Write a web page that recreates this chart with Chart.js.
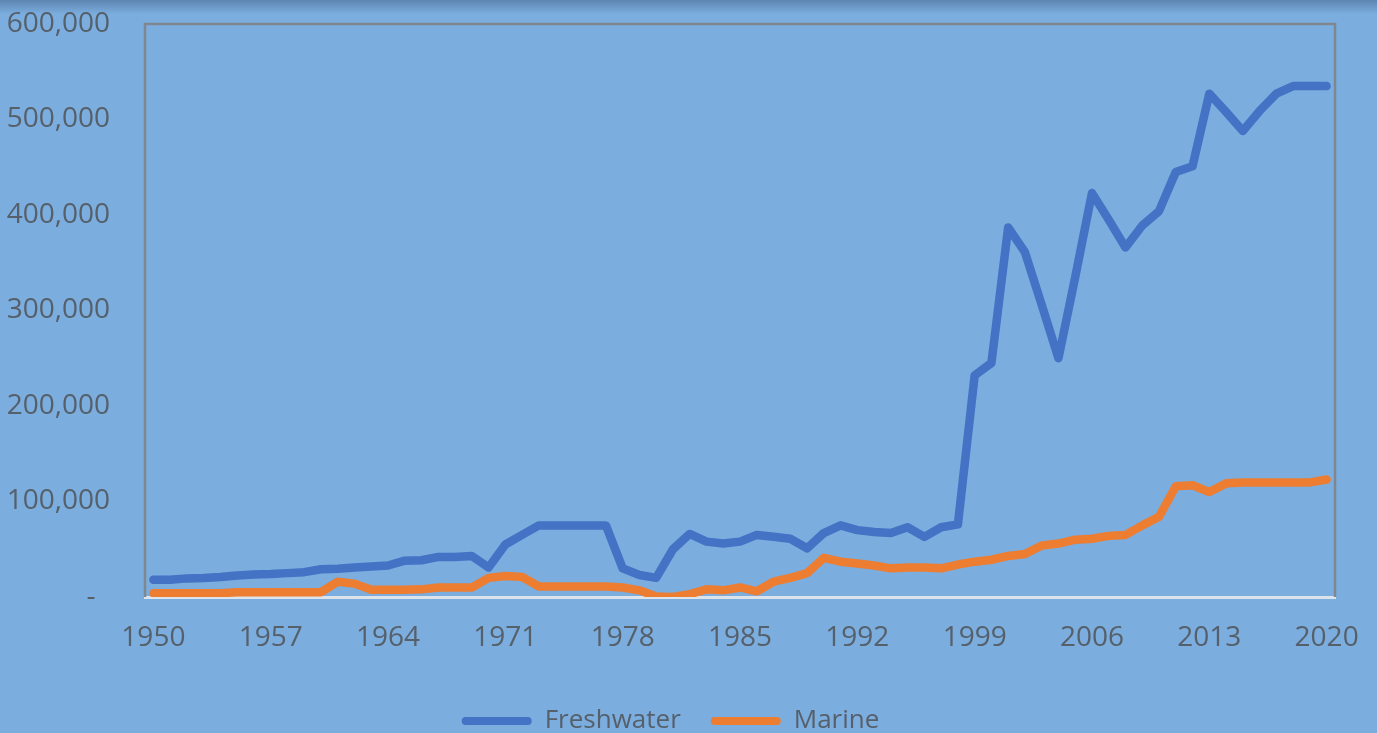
<!DOCTYPE html>
<html>
<head>
<meta charset="utf-8">
<script src="https://cdn.jsdelivr.net/npm/chart.js@4.4.0/dist/chart.umd.min.js"></script>
<style>
  html, body { margin: 0; padding: 0; background: #7badde; }
  #wrap { width: 1377px; height: 733px; }
</style>
</head>
<body>
<div id="wrap"><canvas id="fishChart" width="1377" height="733"></canvas></div>
<script>
// years 1950..2020
const years = [];
for (let y = 1950; y <= 2020; y++) years.push(String(y));

const freshwater = [
  18000, 18000, 19500, 20000, 21000, 22500, 23500, 24000, 25000, 26000,
  29000, 29500, 31000, 32000, 33000, 38000, 38500, 42000, 42000, 43000,
  31000, 55000, 65000, 75000, 75000, 75000, 75000, 75000, 30000, 23000,
  20000, 50000, 66000, 58000, 56000, 58000, 65000, 63000, 61000, 51000,
  67000, 75000, 70000, 68000, 67000, 73000, 63000, 73000, 76000, 232000,
  245000, 387000, 361000, 306000, 250000, 335000, 423000, 395000, 366000, 389000,
  404000, 445000, 451000, 527000, 508000, 488000, 509000, 527000, 535000, 535000,
  535000
];

const marine = [
  4000, 4000, 4000, 4000, 4000, 5000, 5000, 5000, 5000, 5000,
  5000, 16000, 14000, 7500, 7500, 7500, 8000, 10000, 10000, 10000,
  20000, 22000, 21000, 11000, 11000, 11000, 11000, 11000, 10000, 7000,
  500, 0, 3000, 8000, 7000, 10000, 6000, 16000, 20000, 25000,
  41000, 37000, 35000, 33000, 30000, 31000, 31000, 30000, 34000, 37000,
  39000, 43000, 45000, 54000, 56000, 60000, 61000, 64000, 65000, 75000,
  84000, 116000, 117000, 110000, 119000, 120000, 120000, 120000, 120000, 120000,
  123000
];

const yTicks = [0, 100000, 200000, 300000, 400000, 500000, 600000];

const textColor = '#56606b';
const fontFamily = '"Open Sans", Lato, sans-serif';

// background + top shadow + gray frame (top, left, right)
const framePlugin = {
  id: 'frame',
  beforeDraw(chart) {
    const c = chart.ctx;
    c.save();
    c.fillStyle = '#7badde';
    c.fillRect(0, 0, chart.width, chart.height);
    const g = c.createLinearGradient(0, 0, 0, 14);
    g.addColorStop(0, 'rgba(70,100,140,0.55)');
    g.addColorStop(1, 'rgba(70,100,140,0)');
    c.fillStyle = g;
    c.fillRect(0, 0, chart.width, 14);
    c.restore();
  },
  beforeDatasetsDraw(chart) {
    const a = chart.chartArea;
    const c = chart.ctx;
    c.save();
    c.strokeStyle = '#7f8890';
    c.lineWidth = 2.5;
    c.beginPath();
    c.moveTo(a.left, a.bottom);
    c.lineTo(a.left, a.top);
    c.lineTo(a.right, a.top);
    c.lineTo(a.right, a.bottom);
    c.stroke();
    c.restore();
  }
};

Chart.defaults.font.family = fontFamily;
Chart.defaults.color = textColor;

new Chart(document.getElementById('fishChart'), {
  type: 'line',
  data: {
    labels: years,
    datasets: [
      {
        label: 'Freshwater',
        data: freshwater,
        borderColor: '#4472c4',
        backgroundColor: '#4472c4',
        borderWidth: 8.5,
        pointRadius: 0,
        tension: 0,
        borderJoinStyle: 'round',
        borderCapStyle: 'round'
      },
      {
        label: 'Marine',
        data: marine,
        borderColor: '#ed7d31',
        backgroundColor: '#ed7d31',
        borderWidth: 8.5,
        pointRadius: 0,
        tension: 0,
        borderJoinStyle: 'round',
        borderCapStyle: 'round'
      }
    ]
  },
  options: {
    responsive: false,
    animation: false,
    layout: { padding: { left: 6, right: 42, top: 24, bottom: -11 } },
    scales: {
      x: {
        offset: true,
        grid: { display: false, drawTicks: false },
        border: { display: true, color: '#dde3ea', width: 3 },
        ticks: {
          autoSkip: false,
          maxRotation: 0,
          padding: 24,
          font: { size: 28 },
          color: textColor,
          callback: function (val, idx) {
            return idx % 7 === 0 ? years[idx] : null;
          }
        },
        afterFit: function (scale) {
          scale.height = 81;
          scale.paddingLeft = 0;
          scale.paddingRight = 0;
        }
      },
      y: {
        min: 0,
        max: 600000,
        grid: { display: false, drawTicks: false },
        border: { display: false },
        afterBuildTicks: function (scale) {
          scale.ticks = yTicks.map(v => ({ value: v }));
        },
        ticks: {
          padding: 35,
          font: { size: 28 },
          color: textColor,
          callback: function (v) {
            return v === 0 ? '-  ' : v.toLocaleString('en-US');
          }
        },
        afterFit: function (scale) {
          scale.width = 139;
          scale.paddingTop = 0;
          scale.paddingBottom = 0;
        }
      }
    },
    plugins: {
      legend: {
        display: true,
        position: 'bottom',
        labels: {
          boxWidth: 70,
          boxHeight: 8,
          useBorderRadius: true,
          borderRadius: 4,
          padding: 30,
          font: { size: 26 },
          color: textColor,
          generateLabels: function (chart) {
            // plain filled bars, no thick stroke
            return Chart.defaults.plugins.legend.labels.generateLabels(chart)
              .map(l => Object.assign(l, { lineWidth: 0 }));
          }
        }
      },
      tooltip: { enabled: false }
    }
  },
  plugins: [framePlugin]
});
</script>
</body>
</html>
